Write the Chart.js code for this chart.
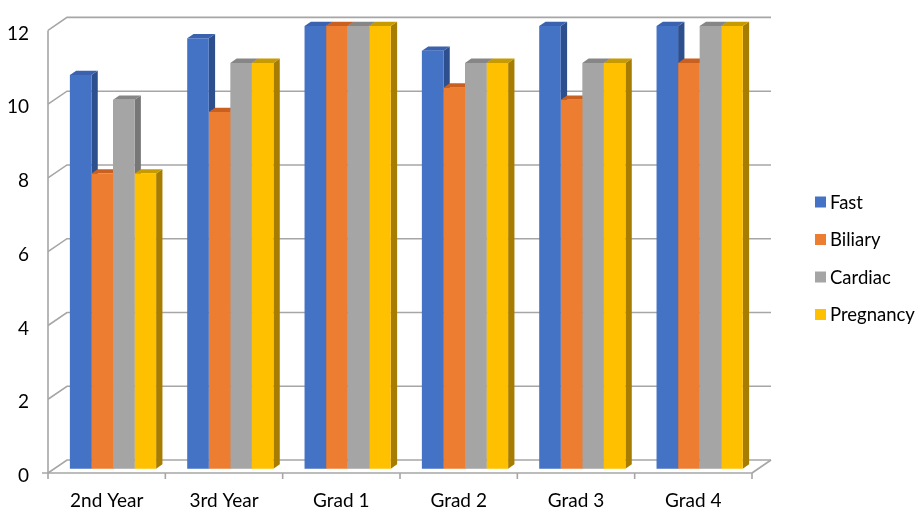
<!DOCTYPE html>
<html>
<head>
<meta charset="utf-8">
<script src="https://cdn.jsdelivr.net/npm/chart.js@4.4.0/dist/chart.umd.min.js"></script>
<style>
  html, body { margin: 0; padding: 0; background: #fff; }
</style>
</head>
<body>
<canvas id="myChart" width="919" height="509"></canvas>
<script>
const levels = ["2nd Year", "3rd Year", "Grad 1", "Grad 2", "Grad 3", "Grad 4"];
const fastScores = [10.67, 11.67, 12, 11.33, 12, 12];
const biliaryScores = [8, 9.67, 12, 10.33, 10, 11];
const cardiacScores = [10, 11, 12, 11, 11, 12];
const pregnancyScores = [8, 11, 12, 11, 11, 12];
const yTicks = [0, 2, 4, 6, 8, 10, 12];

// depth step: the floor is split in three (front gap, bar, back gap)
const DX = 6.33;
const DY = 4.33;

const shades = [
  { front: "#4472C4", top: "#3A62AE", side: "#2D4F8E" },
  { front: "#ED7D31", top: "#C9601F", side: "#B0561C" },
  { front: "#A5A5A5", top: "#868686", side: "#777777" },
  { front: "#FFC000", top: "#C79A00", side: "#A67D00" },
];

function poly(ctx, pts, fill) {
  ctx.beginPath();
  ctx.moveTo(pts[0][0], pts[0][1]);
  for (let k = 1; k < pts.length; k++) ctx.lineTo(pts[k][0], pts[k][1]);
  ctx.closePath();
  ctx.fillStyle = fill;
  ctx.fill();
}

const box3d = {
  id: "box3d",
  beforeDatasetsDraw(chart) {
    const { ctx, chartArea: a, scales } = chart;
    const y = scales.y;
    const bx = 3 * DX, by = 3 * DY;

    ctx.save();
    ctx.strokeStyle = "#A6A6A6";
    ctx.lineWidth = 1.6;

    // side wall + back wall grid
    yTicks.forEach((v) => {
      const py = y.getPixelForValue(v);
      ctx.beginPath();
      ctx.moveTo(a.left, py);
      ctx.lineTo(a.left + bx, py - by);
      ctx.lineTo(a.right + bx, py - by);
      ctx.stroke();
    });

    // floor right edge
    ctx.beginPath();
    ctx.moveTo(a.right, a.bottom);
    ctx.lineTo(a.right + bx, a.bottom - by);
    ctx.stroke();

    // front axes
    ctx.beginPath();
    ctx.moveTo(a.left, y.getPixelForValue(12));
    ctx.lineTo(a.left, a.bottom);
    ctx.moveTo(a.left - 6, a.bottom);
    ctx.lineTo(a.right, a.bottom);
    ctx.stroke();

    const step = (a.right - a.left) / levels.length;
    ctx.beginPath();
    for (let k = 0; k <= levels.length; k++) {
      const px = a.left + k * step;
      ctx.moveTo(px, a.bottom);
      ctx.lineTo(px, a.bottom + 6);
    }
    ctx.stroke();

    // bar sides and tops, left to right so the next bar hides the previous side
    for (let j = 0; j < levels.length; j++) {
      chart.data.datasets.forEach((ds, i) => {
        const el = chart.getDatasetMeta(i).data[j];
        const p = el.getProps(["x", "y", "base", "width"], true);
        const l = p.x - p.width / 2 + DX;
        const r = p.x + p.width / 2 + DX;
        const t = p.y - DY;
        const b = p.base - DY;
        poly(ctx, [[r, t], [r + DX, t - DY], [r + DX, b - DY], [r, b]], shades[i].side);
        poly(ctx, [[l, t], [l + DX, t - DY], [r + DX, t - DY], [r, t]], shades[i].top);
      });
    }
    ctx.restore();

    // front faces sit one depth step behind the front plane
    ctx.save();
    ctx.translate(DX, -DY);
  },
  afterDatasetsDraw(chart) {
    chart.ctx.restore();
  },
  afterDraw(chart) {
    const ctx = chart.ctx;
    ctx.save();
    ctx.font = "18.5px Lato, 'Open Sans', sans-serif";
    ctx.textBaseline = "middle";
    chart.data.datasets.forEach((ds, i) => {
      const cy = 202 + i * 37.5;
      ctx.fillStyle = ds.backgroundColor;
      ctx.fillRect(815, cy - 5.5, 11, 11);
      ctx.fillStyle = "#000";
      ctx.fillText(ds.label, 830, cy + 1);
    });
    ctx.restore();
  },
};

Chart.defaults.font.family = "Lato, 'Open Sans', sans-serif";
Chart.defaults.color = "#000";

const ctx = document.getElementById("myChart");
const myChart = new Chart(ctx, {
  type: "bar",
  data: {
    labels: levels,
    datasets: [
      { label: "Fast", data: fastScores, backgroundColor: shades[0].front },
      { label: "Biliary", data: biliaryScores, backgroundColor: shades[1].front },
      { label: "Cardiac", data: cardiacScores, backgroundColor: shades[2].front },
      { label: "Pregnancy", data: pregnancyScores, backgroundColor: shades[3].front },
    ],
  },
  options: {
    responsive: false,
    animation: false,
    layout: { padding: { top: 26, right: 167, left: 0, bottom: 0 } },
    datasets: {
      bar: { categoryPercentage: 0.735, barPercentage: 1, borderWidth: 0, clip: false },
    },
    plugins: {
      legend: { display: false },
      tooltip: { enabled: false },
    },
    scales: {
      x: {
        grid: { display: false, drawTicks: false },
        border: { display: false },
        ticks: { padding: 16, font: { size: 19 } },
        afterFit: (s) => { s.height = 36; },
      },
      y: {
        min: 0,
        max: 12,
        grid: { display: false, drawTicks: false },
        border: { display: false },
        ticks: { stepSize: 2, padding: 19, labelOffset: 3, font: { size: 19 } },
        afterFit: (s) => { s.width = 48; },
      },
    },
  },
  plugins: [box3d],
});
</script>
</body>
</html>
